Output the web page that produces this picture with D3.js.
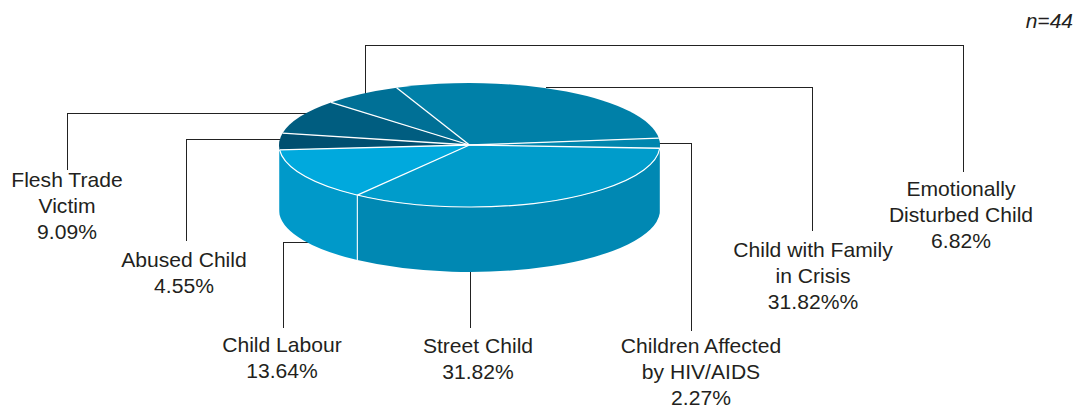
<!DOCTYPE html>
<html><head><meta charset="utf-8">
<script src="https://cdn.jsdelivr.net/npm/d3@7/dist/d3.min.js"></script>
<style>html,body{margin:0;background:#fff}svg{display:block}text{font-family:"Liberation Sans",Arial,sans-serif;fill:#231f20}</style>
</head><body><svg id="c" width="1079" height="409"></svg>
<script>
const categories=["Child with Family in Crisis","Children Affected by HIV/AIDS","Street Child","Child Labour","Abused Child","Flesh Trade Victim","Emotionally Disturbed Child"];
const statedPercent=["31.82%%","2.27%","31.82%","13.64%","4.55%","9.09%","6.82%"];
// Share of the ellipse each slice occupies as drawn (the 3D view distorts the stated shares)
const drawnShare=[29.5,2.6,34.2,13.75,4.3,9.0,6.7];
const topColors=["#0080a8","#0086ae","#009ccb","#00a9dd","#004f70","#005d80","#007096"];
const sideColors=["#0080a8","#0088b3","#0088b3","#0099c9","#0099c9","#005d80","#007096"];
const labelLines=[["Child with Family","in Crisis"],["Children Affected","by HIV/AIDS"],["Street Child"],["Child Labour"],["Abused Child"],["Flesh Trade","Victim"],["Emotionally","Disturbed Child"]];
const labelAnchors=[[813,256.5],[701,352.5],[478,352.5],[282,352],[184,267],[67,186.5],[961,196]];
const leaders=[
 [[546,87],[812,87],[812,231]],
 [[655,143],[691,143],[691,331]],
 [[470,265],[470,328]],
 [[310,242],[283,242],[283,328]],
 [[285,139],[186,139],[186,241]],
 [[315,113],[67,113],[67,170]],
 [[365,98],[365,45],[963,45],[963,172]]];

const cx=469.5,cy=145,rx=190.5,ry=62,depth=65,lineH=26;
const svg=d3.select("#c");
const deg=Math.PI/180;
const pie=d3.pie().sort(null).startAngle(-22.5*deg).endAngle(337.5*deg)(drawnShare);
const px=a=>cx+rx*Math.sin(a),py=a=>cy-ry*Math.cos(a);

// leaders
svg.append("g").selectAll("path").data(leaders).join("path")
 .attr("d",d3.line()).attr("fill","none").attr("stroke","#222").attr("stroke-width",1)
 .attr("shape-rendering","crispEdges");

// side walls
const wall=svg.append("g");
pie.forEach((d,i)=>{
 const s=Math.max(d.startAngle,Math.PI/2),e=Math.min(d.endAngle,3*Math.PI/2);
 if(e<=s) return;
 const large=e-s>Math.PI?1:0;
 wall.append("path").attr("fill",sideColors[i]).attr("d",
  `M${px(s)},${py(s)}A${rx},${ry} 0 ${large} 1 ${px(e)},${py(e)}`+
  `L${px(e)},${py(e)+depth}A${rx},${ry} 0 ${large} 0 ${px(s)},${py(s)+depth}Z`);
});
// wall divider at street/labour boundary
const split=pie[2].endAngle;
wall.append("path").attr("d",d3.line()([[px(split),py(split)],[px(split),py(split)+depth]]))
 .attr("stroke","#fff").attr("stroke-width",1.2).attr("opacity",.9);

// top face
const arc=d3.arc().innerRadius(0).outerRadius(rx);
const topFace=svg.append("g").attr("transform",`translate(${cx},${cy}) scale(1,${ry/rx})`);
topFace.selectAll("path").data(pie).join("path").attr("d",arc)
 .attr("fill",(d,i)=>topColors[i]);
// radial dividers
topFace.selectAll("line").data(pie).join("line")
 .attr("x1",0).attr("y1",0)
 .attr("x2",d=>rx*Math.sin(d.startAngle)).attr("y2",d=>-rx*Math.cos(d.startAngle))
 .attr("stroke","#fff").attr("stroke-width",1.3).attr("vector-effect","non-scaling-stroke");
// front rim highlight
const rimStart=pie[1].endAngle,rimEnd=pie[3].endAngle;
svg.append("path").attr("d",`M${px(rimStart)},${py(rimStart)}A${rx},${ry} 0 0 1 ${px(rimEnd)},${py(rimEnd)}`)
 .attr("fill","none").attr("stroke","#fff").attr("stroke-width",1.2);

// labels
const lab=svg.append("g").attr("text-anchor","middle").attr("font-size",21.1);
categories.forEach((c,i)=>{
 const [x,y]=labelAnchors[i];
 const t=lab.append("text").attr("x",x).attr("y",y);
 labelLines[i].concat([statedPercent[i]]).forEach((s,k)=>{
  t.append("tspan").attr("x",x).attr("y",y+k*lineH).text(s);
 });
});
svg.append("text").attr("x",1073).attr("y",27.5).attr("text-anchor","end")
 .attr("font-size",21).attr("font-style","italic").text("n=44");
</script></body></html>
